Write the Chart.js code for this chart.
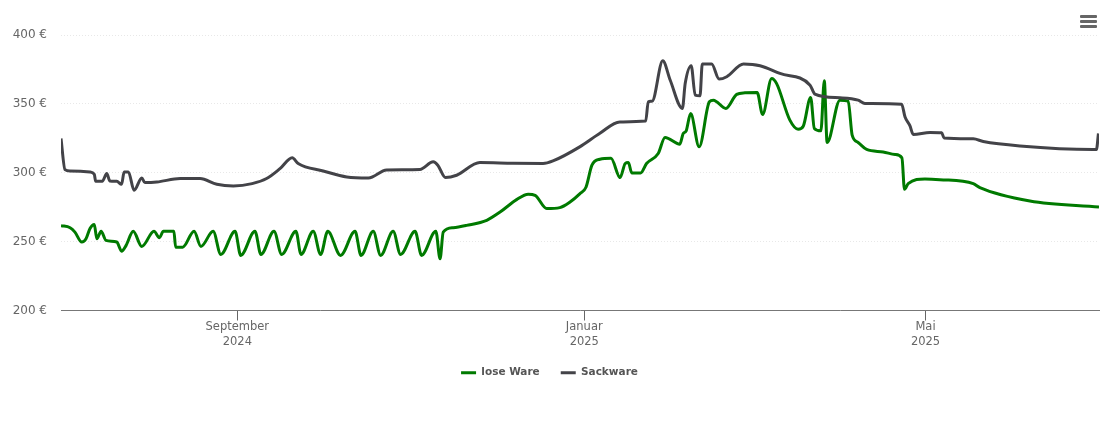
<!DOCTYPE html>
<html>
<head>
<meta charset="utf-8">
<title>Preisverlauf</title>
<script src="https://cdn.jsdelivr.net/npm/chart.js@4"></script>
<style>
  html, body { margin: 0; padding: 0; background: #fff; }
  #wrap { position: relative; width: 1110px; height: 422px; }
  #menu { position: absolute; left: 1080px; top: 15px; width: 17px; }
  #menu div { height: 3px; margin-bottom: 2px; background: #666; border-radius: 1px; }
</style>
</head>
<body>
<div id="wrap">
  <canvas id="myChart" width="1110" height="422"></canvas>
  <div id="menu"><div></div><div></div><div></div></div>
</div>
<script>
// days counted from 1 July 2024
var looseDays = [0,3.2,4.9,7.3,8.8,10.2,11.7,12.6,14.1,15.8,19.6,21.3,22.9,25.4,28.4,32.7,34.6,36,39.7,40.3,42.8,46.8,49.2,53.5,56.2,61.2,63.2,68.2,70.3,74.9,77.6,82.6,84.4,88.7,91.3,93.8,98.3,103.4,105.5,109.8,112.4,116.8,119.4,124.5,126.8,131.8,133.3,134.4,137.9,142.6,149.7,154.4,160.2,164.3,166.7,170.8,175.4,179,182.5,184.6,186.7,189.5,193.4,196.6,198.4,199.5,200.7,203.8,205.9,210,212.4,217.6,218.8,219.8,221.4,224.4,228,229.4,233.8,237.6,240.5,244.8,246.7,249.9,251.6,256.3,259.2,261,263.6,264.9,267.2,268.4,269.4,273.9,276.8,278.2,280.3,283.3,289.1,293.3,295.7,296.6,297.9,303.8,309,320.8,323.1,340.7,365];
var loosePrices = [261.6,260.1,256.9,249.7,252.1,259.6,262.5,252.1,257.5,250.9,249.7,243.1,247.3,257.5,246.5,257.5,252.9,257.5,257.5,246,246,257.5,246.5,257.5,240.7,257.5,240,257.5,240.7,257.5,240.7,257.5,240.7,257.5,240.7,257.5,240,257.5,240,257.5,240,257.5,240.7,257.5,240,257.5,237.6,256.9,260.1,261.8,265.5,271.5,280.5,284.4,283.6,274,274.7,278.8,284.9,289.5,305.5,309.8,310.5,296.5,306.7,307.4,299.9,299.9,306.7,314,325.6,320.7,328.5,330.2,343,318.8,351.5,352.7,346.7,356.9,358,358.3,342.3,368.5,364.9,338.2,331.6,333.8,354.7,332.1,330.4,366.8,322,352.7,352,327.3,322,316.9,315.1,313.2,310.8,288,292.1,295.5,295,292.1,289.2,279.5,275.1];

var sackDays = [0,1.4,3.2,10.2,11.7,12.2,14.5,16.1,17.2,19.6,21.3,22.2,23.7,25.7,28.4,29.5,33.7,41.9,48.9,54.8,60.6,67.2,72.3,77,81.3,83.4,92.2,100.5,108.1,114.5,126.2,130.9,132.5,135.2,139.1,147.3,158.9,169.5,173,182.4,189.5,196.5,205.6,206.5,207.9,211.6,214.2,218.5,219.5,221.6,223,224.7,225.5,228.8,231.4,234.1,240,245.8,252.8,263.4,265.1,273.9,280.3,282.7,295.6,296.8,298.5,299.7,305.6,309.7,310.5,320.8,324.3,337.2,362.9,364.1,364.8];
var sackPrices = [324.9,302.3,301.3,300.6,298.9,293.8,293.8,299.4,294,293.8,291.6,300.6,300.6,287.3,296.2,292.9,293.3,295.8,295.8,291.6,290.4,292.1,295.8,303,310.9,306.7,301.3,296.9,296.2,302,302.3,307.9,305.5,296.5,298.2,307.4,306.9,306.7,308.6,318.8,328.7,336.9,337.5,351.5,352,381.3,367.3,346.7,364.9,377.7,356.4,355.9,378.9,378.9,368,369.7,378.9,377.7,372.1,363.6,357.1,354.4,352.7,350.3,349.8,340.4,334.2,327.8,329.2,329,325.3,324.6,322.7,319.5,316.9,316.9,328.5];

var tickDays = [62, 184, 304];
var tickLabels = [['September','2024'],['Januar','2025'],['Mai','2025']];
var yTicks = [200, 250, 300, 350, 400];

var toPoints = function (days, prices) {
  return days.map(function (d, i) { return {x: d, y: prices[i]}; });
};

var drawChart = function (id, datasets) {
  var ctx = document.getElementById(id).getContext('2d');
  return new Chart(ctx, {
    type: 'line',
    data: { datasets: datasets },
    options: {
      responsive: false,
      animation: false,
      layout: { padding: { top: 35, right: 11, bottom: 34, left: 0 } },
      elements: { point: { radius: 0 } },
      plugins: {
        tooltip: { enabled: false },
        legend: {
          position: 'bottom',
          labels: {
            usePointStyle: true,
            pointStyle: 'line',
            pointStyleWidth: 15,
            color: '#555',
            padding: 21,
            font: { family: 'DejaVu Sans', size: 10.5, weight: 'bold' },
            sort: function (a, b) { return a.datasetIndex - b.datasetIndex; }
          }
        }
      },
      scales: {
        x: {
          type: 'linear',
          min: 0,
          max: 365,
          afterBuildTicks: function (axis) {
            axis.ticks = tickDays.map(function (d) { return {value: d}; });
          },
          afterFit: function (axis) { axis.height = 36; },
          border: { color: '#777', width: 1 },
          grid: { drawOnChartArea: false, tickLength: 10, tickColor: '#666' },
          ticks: {
            autoSkip: false,
            maxRotation: 0,
            padding: -1,
            color: '#666',
            font: { family: 'DejaVu Sans', size: 11.5, lineHeight: 1.3 },
            callback: function (value) { return tickLabels[tickDays.indexOf(value)]; }
          }
        },
        y: {
          min: 200,
          max: 400,
          afterBuildTicks: function (axis) {
            axis.ticks = yTicks.map(function (v) { return {value: v}; });
          },
          afterFit: function (axis) { axis.width = 61; },
          border: { display: false, dash: [1, 2] },
          grid: { color: '#e8e8e8', lineWidth: 1, drawTicks: false },
          ticks: {
            padding: 14,
            color: '#666',
            font: { family: 'DejaVu Sans', size: 12 },
            callback: function (value) { return value + ' €'; }
          }
        }
      }
    }
  });
};

drawChart('myChart', [
  {label: 'lose Ware', data: toPoints(looseDays, loosePrices), borderColor: '#007a00', backgroundColor: '#007a00', borderWidth: 3, cubicInterpolationMode: 'monotone', order: 2},
  {label: 'Sackware', data: toPoints(sackDays, sackPrices), borderColor: '#434348', backgroundColor: '#434348', borderWidth: 3, cubicInterpolationMode: 'monotone', order: 1}
]);
</script>
</body>
</html>
